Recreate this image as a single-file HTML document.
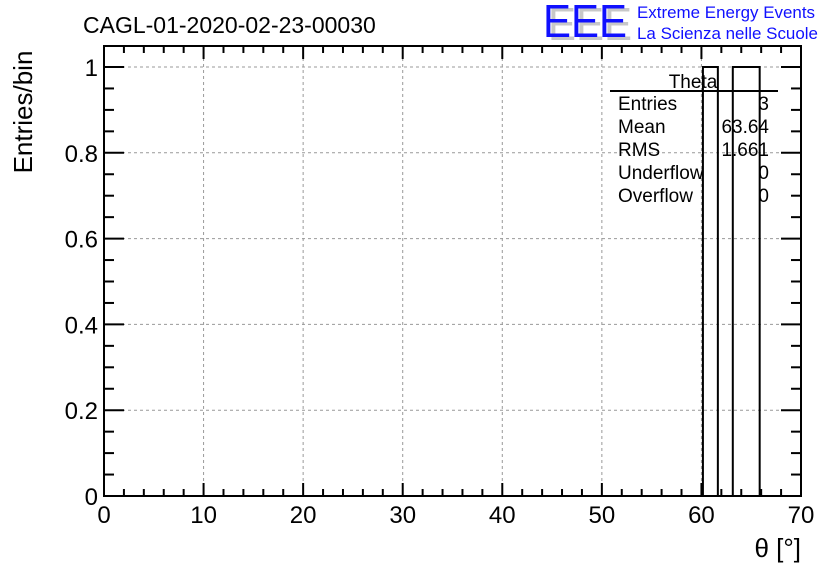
<!DOCTYPE html>
<html><head><meta charset="utf-8"><style>
body{margin:0;background:#fff;}
svg text{font-family:"Liberation Sans",Arial,sans-serif;}
</style></head><body>
<svg id="c" width="836" height="572" xmlns="http://www.w3.org/2000/svg">
<rect width="836" height="572" fill="#fff"/>
<text x="83" y="33" font-size="23">CAGL-01-2020-02-23-00030</text>
<g>
<text x="548" y="40" font-size="46" fill="#c8c8c8" textLength="84" lengthAdjust="spacingAndGlyphs">EEE</text>
<text x="543" y="37" font-size="46" fill="#1010ff" textLength="84" lengthAdjust="spacingAndGlyphs">EEE</text>
<text x="637" y="18" font-size="16.5" fill="#1010ff" textLength="178" lengthAdjust="spacingAndGlyphs">Extreme Energy Events</text>
<text x="637" y="39" font-size="16.5" fill="#1010ff" textLength="181" lengthAdjust="spacingAndGlyphs">La Scienza nelle Scuole</text>
</g>
<g id="grid"></g>
<g id="bars"></g>
<g id="axes"></g>
<g>
<text x="693" y="88" font-size="19" text-anchor="middle">Theta</text>
<line x1="610" y1="91" x2="778" y2="91" stroke="#000" stroke-width="2"/>
<text x="618" y="110" font-size="19">Entries</text><text x="769" y="110" font-size="19" text-anchor="end">3</text>
<text x="618" y="133" font-size="19">Mean</text><text x="769" y="133" font-size="19" text-anchor="end">63.64</text>
<text x="618" y="156" font-size="19">RMS</text><text x="769" y="156" font-size="19" text-anchor="end">1.661</text>
<text x="618" y="179" font-size="19">Underflow</text><text x="769" y="179" font-size="19" text-anchor="end">0</text>
<text x="618" y="202" font-size="19">Overflow</text><text x="769" y="202" font-size="19" text-anchor="end">0</text>
</g>
<text x="32" y="112" font-size="26" transform="rotate(-90 32 112)" text-anchor="middle">Entries/bin</text>
<text x="801" y="557" font-size="26" text-anchor="end">θ [°]</text>
</svg>
<script>
const binLow=[60.15,61.65,63.15,64.5];
const binHigh=[61.65,63.15,64.5,65.85];
const counts=[1,0,1,1];
const xTicks=[0,10,20,30,40,50,60,70];
const yTicks=[0,0.2,0.4,0.6,0.8,1];
const yTickLabels=["0","0.2","0.4","0.6","0.8","1"];
const L=104,R=801,T=46,B=496;
const xs=v=>L+v*(R-L)/70;
const ys=v=>B-v*(B-67);
const NS="http://www.w3.org/2000/svg";
function mk(p,t,a){const e=document.createElementNS(NS,t);for(const k in a)e.setAttribute(k,a[k]);p.appendChild(e);return e;}
const grid=document.getElementById('grid'),bars=document.getElementById('bars'),ax=document.getElementById('axes');
xTicks.forEach(v=>{if(v>0&&v<70){const l=mk(grid,'line',{x1:xs(v),x2:xs(v),y1:T,y2:B,stroke:'#999','stroke-dasharray':'3,3','stroke-width':1});

}});
yTicks.forEach(v=>{if(v>0){const l=mk(grid,'line',{x1:L,x2:R,y1:ys(v),y2:ys(v),stroke:'#999','stroke-dasharray':'3,3','stroke-width':1});

}});
let d='M'+xs(binLow[0])+','+B;
counts.forEach((c,i)=>{d+=' L'+xs(binLow[i])+','+ys(c)+' L'+xs(binHigh[i])+','+ys(c);});
d+=' L'+xs(binHigh[binHigh.length-1])+','+B;
const hp=mk(bars,'path',{d:d,fill:'none',stroke:'#000','stroke-width':2});


const f=mk(ax,'rect',{x:L,y:T,width:R-L,height:B-T,fill:'none',stroke:'#000','stroke-width':2});


for(let v=0;v<=70;v+=2){const maj=v%10===0;
mk(ax,'line',{x1:xs(v),x2:xs(v),y1:B,y2:B-(maj?13:7),stroke:'#000','stroke-width':2});
mk(ax,'line',{x1:xs(v),x2:xs(v),y1:T,y2:T+(maj?13:7),stroke:'#000','stroke-width':2});}
for(let k=0;k<=25;k++){const v=k*0.05;const maj=k%4===0;const y=ys(v);if(y<T)continue;
mk(ax,'line',{x1:L,x2:L+(maj?20:10),y1:y,y2:y,stroke:'#000','stroke-width':2});
mk(ax,'line',{x1:R,x2:R-(maj?20:10),y1:y,y2:y,stroke:'#000','stroke-width':2});}
xTicks.forEach(v=>{const t=mk(ax,'text',{x:xs(v),y:523,'font-size':24,'text-anchor':'middle'});t.textContent=v;

});
yTicks.forEach((v,i)=>{const t=mk(ax,'text',{x:98,y:ys(v)+9,'font-size':24,'text-anchor':'end'});t.textContent=yTickLabels[i];

});
</script>
</body></html>
